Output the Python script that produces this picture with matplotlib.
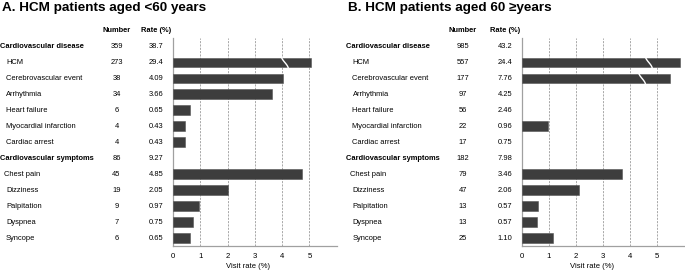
import numpy as np
import matplotlib
matplotlib.use("Agg")
import matplotlib.pyplot as plt
from matplotlib.transforms import blended_transform_factory

plt.rcParams['font.family'] = ['Liberation Sans', 'DejaVu Sans']

categories = ["Cardiovascular disease", "HCM", "Cerebrovascular event", "Arrhythmia",
              "Heart failure", "Myocardial infarction", "Cardiac arrest",
              "Cardiovascular symptoms", "Chest pain", "Dizziness", "Palpitation",
              "Dyspnea", "Syncope"]
is_group = [True, False, False, False, False, False, False,
            True, False, False, False, False, False]

numbers_a = [359, 273, 38, 34, 6, 4, 4, 86, 45, 19, 9, 7, 6]
rates_a = ["38.7", "29.4", "4.09", "3.66", "0.65", "0.43", "0.43",
           "9.27", "4.85", "2.05", "0.97", "0.75", "0.65"]
bars_a = [np.nan, 5.05, 4.05, 3.63, 0.64, 0.44, 0.44,
          np.nan, 4.72, 2.03, 0.95, 0.74, 0.64]
breaks_a = {1: 4.1}

numbers_b = [985, 557, 177, 97, 56, 22, 17, 182, 79, 47, 13, 13, 25]
rates_b = ["43.2", "24.4", "7.76", "4.25", "2.46", "0.96", "0.75",
           "7.98", "3.46", "2.06", "0.57", "0.57", "1.10"]
bars_b = [np.nan, 5.85, 5.5, np.nan, np.nan, 0.98, np.nan,
          np.nan, 3.69, 2.1, 0.6, 0.57, 1.17]
breaks_b = {1: 4.7, 2: 4.45}

titles = ["A. HCM patients aged <60 years", "B. HCM patients aged 60 \u2265years"]
xticks = [0, 1, 2, 3, 4, 5]

W, H = 685, 272
fig = plt.figure(figsize=(W / 100, H / 100), dpi=100)

panels = [
    dict(title=titles[0], numbers=numbers_a, rates=rates_a, bars=bars_a, breaks=breaks_a,
         ax_left=173, ax_right=336.7, x0=0, num_x=116.5, rate_x=156, title_x=2,
         xlabel_x=248),
    dict(title=titles[1], numbers=numbers_b, rates=rates_b, bars=bars_b, breaks=breaks_b,
         ax_left=521.7, ax_right=684, x0=346.5, num_x=463, rate_x=505, title_x=348,
         xlabel_x=592),
]

ax_top, ax_bottom = 37.7, 246
fs = 5.4
bar_color = '#3d3d3d'

for p in panels:
    ax = fig.add_axes([p['ax_left'] / W, 1 - ax_bottom / H,
                       (p['ax_right'] - p['ax_left']) / W, (ax_bottom - ax_top) / H])
    y = np.arange(len(categories))
    ax.barh(y, p['bars'], height=0.62, color=bar_color, edgecolor='#555555', linewidth=0.4,
            zorder=3)
    # break marks
    for row, bx in p['breaks'].items():
        t = np.linspace(0, 1, 30)
        xs = bx + 0.13 * np.sin(np.pi * (t - 0.5))
        ys = row - 0.42 + 0.84 * t
        ax.plot(xs, ys, color='white', lw=1.0, zorder=4, solid_capstyle='round')
    ax.set_xlim(0, 6)
    ax.set_ylim(len(categories) - 0.52, -0.55)
    for xv in xticks[1:]:
        ax.axvline(xv, color='#9a9a9a', lw=0.6, ls=(0, (2.5, 1.5)), zorder=1)
    ax.set_yticks([])
    ax.set_xticks(xticks)
    ax.set_xticklabels([str(v) for v in xticks], fontsize=fs + 0.2)
    ax.tick_params(axis='x', length=0, pad=5)
    for s in ['top', 'right']:
        ax.spines[s].set_visible(False)
    for s in ['left', 'bottom']:
        ax.spines[s].set_color('#a0a0a0')
        ax.spines[s].set_linewidth(0.9)
    ax.patch.set_alpha(0)

    tr = blended_transform_factory(fig.transFigure, ax.transData)
    for i, cat in enumerate(categories):
        if is_group[i]:
            xx = p['x0']
        elif cat == "Chest pain":
            xx = p['x0'] + 4
        else:
            xx = p['x0'] + 6
        ax.text(xx / W, i, cat, transform=tr, fontsize=fs,
                fontweight='bold' if is_group[i] else 'normal',
                ha='left', va='center', clip_on=False)
        ax.text(p['num_x'] / W, i, str(p['numbers'][i]), transform=tr, fontsize=fs,
                ha='center', va='center', clip_on=False)
        ax.text(p['rate_x'] / W, i, p['rates'][i], transform=tr, fontsize=fs,
                ha='center', va='center', clip_on=False)
    fig.text(p['num_x'] / W, 1 - 30.5 / H, "Number", fontsize=fs, fontweight='bold',
             ha='center', va='center')
    fig.text(p['rate_x'] / W, 1 - 30.5 / H, "Rate (%)", fontsize=fs, fontweight='bold',
             ha='center', va='center')
    fig.text(p['title_x'] / W, 1 - 10.5 / H, p['title'], fontsize=9.7, fontweight='bold',
             ha='left', va='baseline')
    fig.text(p['xlabel_x'] / W, 1 - 266.5 / H, "Visit rate (%)", fontsize=fs + 0.1,
             ha='center', va='center')

fig.savefig("out.png", dpi=100)
